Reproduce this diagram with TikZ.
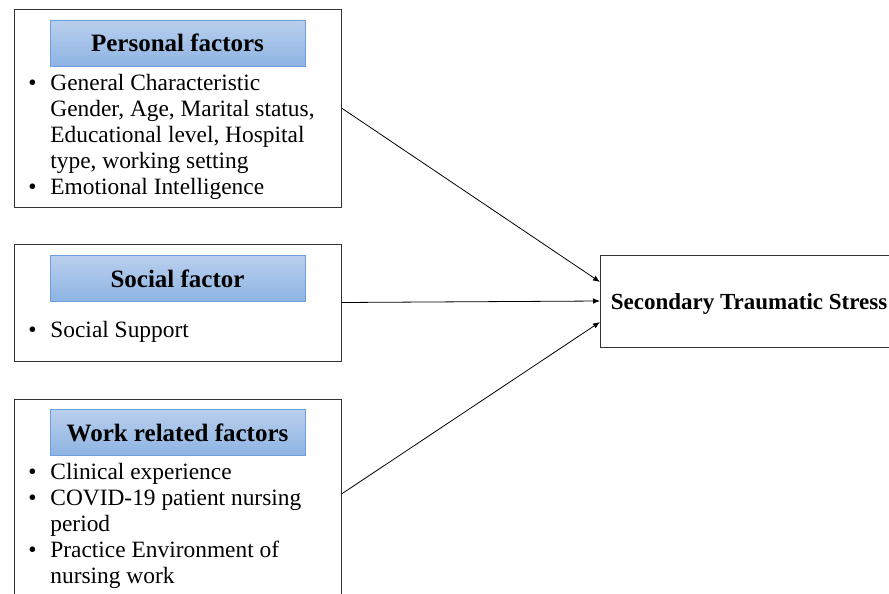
\documentclass[tikz,border=0pt]{standalone}
\usepackage{fontspec}
\setmainfont{Liberation Serif}
\usetikzlibrary{arrows.meta}
\definecolor{headtop}{RGB}{186,207,237}
\definecolor{headbot}{RGB}{141,180,227}
\definecolor{headline}{RGB}{110,158,219}
\newcommand{\bul}{\makebox[12.5pt][l]{\hspace{1.5pt}\textbullet}}
\newcommand{\ind}{\hspace*{12.5pt}}

\begin{document}
\begin{tikzpicture}[x=0.5pt,y=-0.5pt,>={Latex[length=3.5pt,width=2.8pt]},
  factorbox/.style={draw=black!80,line width=0.5pt,minimum width=163.5pt,inner sep=0pt},
  headbox/.style={draw=headline,line width=0.4pt,top color=headtop,bottom color=headbot,
    minimum width=127.5pt,minimum height=23pt,inner sep=0pt,font=\fontsize{12.5}{13}\selectfont\bfseries},
  listtext/.style={anchor=north west,inner sep=0pt,align=left,font=\fontsize{11.7}{13}\selectfont}]
\useasboundingbox (0,0) rectangle (889,594);
% the three groups of factors
\node[factorbox,minimum height=99pt] (personal) at (177.5,108) {};
\node[factorbox,minimum height=58.5pt] (social) at (177.5,302.5) {};
\node[factorbox,minimum height=99pt] (work) at (177.5,498) {};
\node[headbox] (perhead) at (177.5,43) {Personal factors};
\node[headbox] (sochead) at (177.5,278.5) {Social factor};
\node[headbox] (workhead) at (177.5,432.5) {Work related factors};
\node[listtext] (perlist) at (25,72) {\strut\bul General Characteristic\\
  \ind Gender, Age, Marital status,\\
  \ind Educational level, Hospital\\
  \ind type, working setting\\
  \bul Emotional Intelligence};
\node[listtext] (soclist) at (25,319) {\strut\bul Social Support};
\node[listtext] (worklist) at (25,461) {\strut\bul Clinical experience\\
  \bul COVID-19 patient nursing\\
  \ind period\\
  \bul Practice Environment of\\
  \ind nursing work};
% outcome
\node[factorbox,minimum width=148.5pt,minimum height=46pt,anchor=west,text height=11pt,text depth=2.5pt,
  font=\fontsize{11.5}{13}\selectfont\bfseries] (stress) at (600,301) {Secondary Traumatic Stress};
\draw[->,line width=0.4pt] (personal.east) -- ([yshift=9.5pt]stress.west);
\draw[->,line width=0.4pt] (social.east) -- (stress.west);
\draw[->,line width=0.4pt] ([yshift=2pt]work.east) -- ([yshift=-10.5pt]stress.west);
\end{tikzpicture}
\end{document}
